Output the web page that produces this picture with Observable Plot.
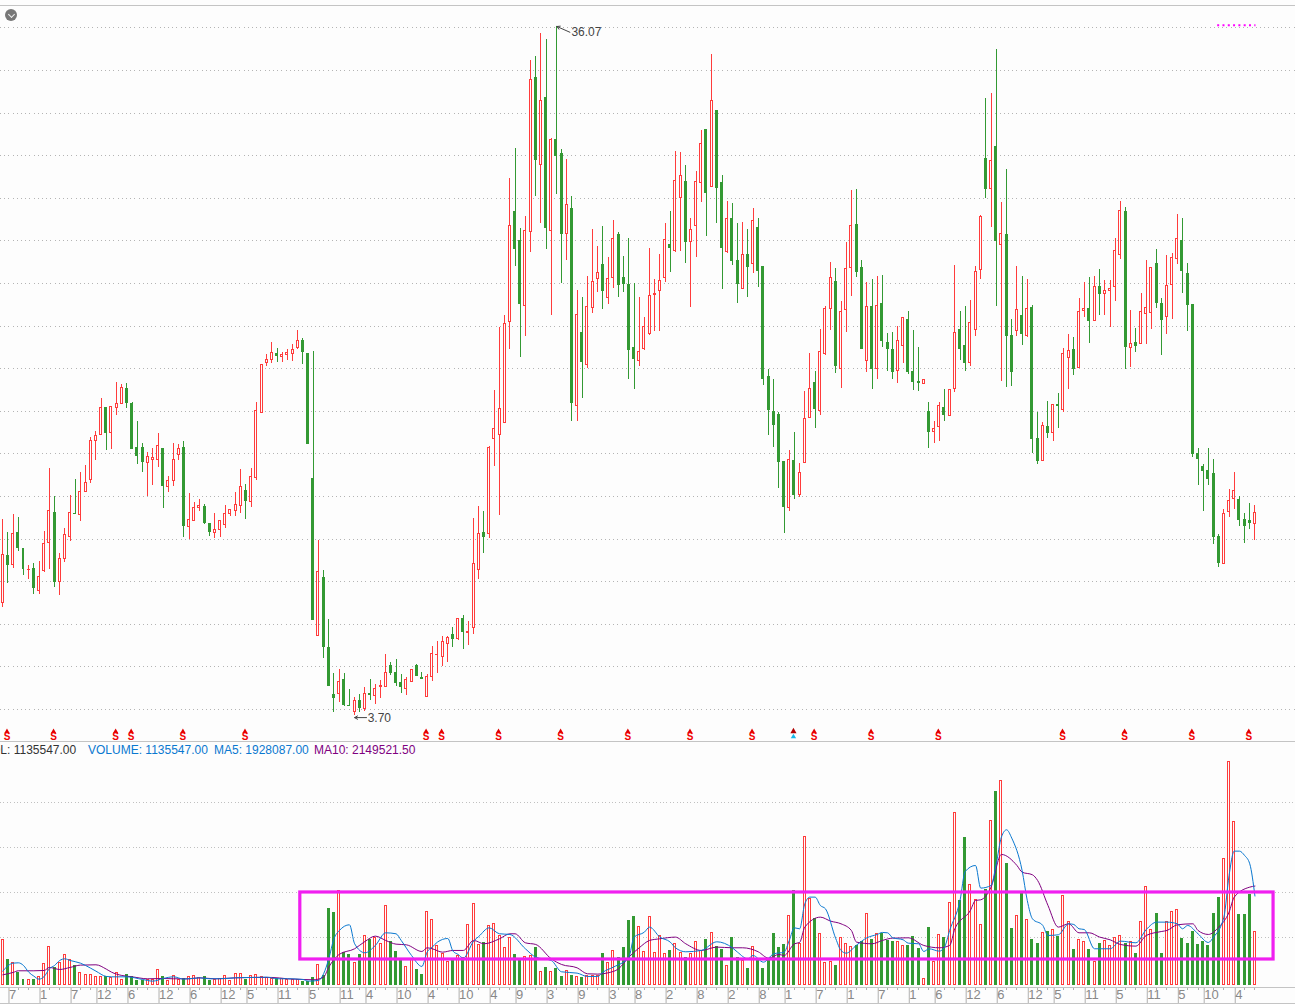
<!DOCTYPE html>
<html>
<head>
<meta charset="utf-8">
<script src="https://cdn.jsdelivr.net/npm/d3@7"></script>
<script src="https://cdn.jsdelivr.net/npm/@observablehq/plot@0.6"></script>
<style>
html,body{margin:0;padding:0;background:#fdfdfd;overflow:hidden;width:1295px;height:1004px;font-family:"Liberation Sans",Arial,sans-serif}
#wrap{position:relative;width:1295px;height:1004px;overflow:hidden}
#top,#bottom{position:absolute;left:0;width:1295px}
#top{top:0}
#bottom{top:741px}
svg{display:block}
.hl{position:absolute;left:0;width:1295px;height:1px;background:#c4c4c4}
.lab{position:absolute;top:743px;font-size:12px;line-height:14px;white-space:nowrap}
#clip{position:absolute;left:0;top:0;width:1295px;height:3px;overflow:hidden}
#clip span{position:absolute;top:-11px;font-size:12px;line-height:14px;white-space:nowrap;color:#333}
#btn{position:absolute;left:5px;top:9px;width:12px;height:12px;border-radius:50%;background:#777}
#btn i{position:absolute;left:3.5px;top:2.5px;width:4px;height:4px;border-right:1px solid #eee;border-bottom:1px solid #eee;transform:rotate(45deg)}
</style>
</head>
<body>
<div id="wrap">
  <div id="bottom"></div>
  <div id="top"></div>
  <div class="hl" style="top:5px;height:1px"></div>
  <div class="hl" style="top:741px"></div>
  <div class="hl" style="top:987px"></div>
  <div class="hl" style="top:1003px"></div>
  <div id="clip">
    <span style="left:3px">12.70</span><span style="left:45px">13.58</span><span style="left:91px">11.94</span><span style="left:125px">13.24</span><span style="left:159px">0.46</span><span style="left:192px;color:#f00">+3.6%</span><span style="left:226px">1135</span><span style="left:270px">547</span>
  </div>
  <div id="btn"><i></i></div>
  <div class="lab" style="left:-17px;color:#333">VOL: 1135547.00</div>
  <div class="lab" style="left:88px;color:#0a78d0">VOLUME: 1135547.00</div>
  <div class="lab" style="left:214px;color:#0a78d0">MA5: 1928087.00</div>
  <div class="lab" style="left:314px;color:#800080">MA10: 2149521.50</div>
</div>
<script>
const high = [12.93,12.32,13.16,13.02,11.52,10.75,10.84,10.95,12.36,15.32,
13.99,11.31,12.50,14.04,14.79,15.12,15.45,16.76,17.04,18.59,
18.17,18.23,19.36,19.25,19.31,18.42,17.53,16.49,16.06,16.26,
16.95,16.21,14.94,16.48,16.45,16.59,14.13,13.71,13.86,13.63,
12.74,13.21,12.86,13.57,13.38,14.18,15.26,14.57,15.30,18.42,
20.20,20.66,21.22,20.94,20.75,20.89,21.13,21.80,21.44,20.71,
20.82,11.94,10.53,8.23,5.70,5.89,5.70,4.95,4.57,4.71,
5.04,5.42,5.18,5.37,6.59,6.21,6.35,5.65,5.51,5.84,
6.12,5.74,5.65,6.97,7.20,7.43,7.43,7.86,8.28,8.42,
8.14,12.97,13.54,13.30,16.36,18.98,21.94,22.51,28.93,30.34,
26.57,27.13,34.47,34.66,35.74,35.46,30.81,36.07,30.29,29.82,
28.09,23.67,23.34,24.33,26.54,25.74,26.68,25.22,26.96,26.40,
25.27,26.11,24.00,23.34,22.41,25.65,24.19,25.36,26.82,27.38,
30.20,30.15,29.54,27.05,29.26,31.19,31.19,34.75,32.08,29.07,
27.85,27.76,26.82,26.87,26.54,27.52,27.05,24.80,19.97,19.50,
17.95,15.60,16.16,17.01,15.55,18.93,20.72,19.87,21.84,22.92,
24.99,24.71,23.16,25.93,28.37,28.42,25.08,24.05,24.19,24.33,
24.38,21.66,21.70,21.99,22.41,22.69,21.80,21.00,19.48,18.42,
17.53,18.42,19.03,19.01,24.85,22.69,22.92,23.21,24.80,27.20,
32.69,32.92,34.99,27.81,29.35,22.31,24.80,24.33,24.19,22.97,
17.95,17.46,18.46,18.31,18.84,20.95,21.61,21.47,23.30,24.05,
24.29,24.33,24.66,24.14,24.14,26.12,27.85,27.57,22.74,21.89,
23.53,25.08,24.74,25.60,23.30,25.32,25.41,27.24,27.06,24.94,
22.97,16.26,15.51,16.26,15.74,12.22,13.39,14.33,15.13,14.00,
13.21,13.68,13.58];
const low = [8.81,9.94,10.64,11.44,10.27,10.12,9.42,9.42,10.41,10.58,
9.75,9.33,10.88,11.91,13.17,12.85,14.21,14.63,15.70,16.90,
16.17,16.21,17.82,18.34,18.15,16.23,15.51,15.15,14.02,14.54,
15.38,13.46,14.21,14.49,15.71,12.10,12.00,12.85,13.32,12.69,
12.14,12.05,12.10,12.52,13.08,13.04,13.22,12.94,13.50,14.73,
17.92,20.12,20.27,20.31,20.30,20.39,20.34,20.92,20.21,16.45,
8.19,7.45,6.40,5.09,3.87,4.35,4.15,4.15,3.70,3.87,
3.91,4.43,4.24,4.52,5.06,5.60,5.09,4.76,4.66,5.29,
5.56,5.42,4.59,5.32,5.70,6.03,6.21,6.92,7.25,6.82,
7.01,7.53,10.11,11.33,12.04,15.42,13.12,17.44,20.92,24.80,
20.53,21.51,25.47,28.09,26.82,25.60,22.50,28.18,24.00,25.08,
17.53,17.53,18.60,20.01,22.59,23.58,22.78,23.02,23.77,23.34,
23.58,19.49,19.03,20.11,20.86,21.56,21.75,21.75,24.05,24.52,
25.46,25.50,24.94,22.88,25.22,27.81,26.21,28.51,26.82,23.72,
25.41,24.85,23.06,23.72,23.34,24.47,23.81,19.22,16.87,16.30,
14.38,12.27,13.30,13.86,13.96,15.57,17.70,17.20,17.81,20.62,
21.80,19.78,19.07,21.70,23.39,24.29,20.91,19.83,19.03,19.50,
21.00,19.87,19.50,19.31,20.25,19.73,18.98,18.93,19.28,16.26,
16.49,16.59,17.53,17.76,18.89,20.39,19.87,20.11,21.52,24.19,
27.99,26.65,22.92,19.40,19.12,19.17,21.52,21.09,21.47,16.01,
15.51,15.66,16.73,16.59,17.20,17.95,19.03,19.68,20.01,22.41,
21.19,22.22,22.50,22.50,21.94,23.16,25.13,19.97,20.06,20.76,
21.16,21.14,21.84,22.83,20.62,21.61,22.31,24.90,23.53,21.75,
15.84,14.52,13.30,14.52,11.75,10.67,10.81,13.02,13.39,12.60,
11.80,12.45,11.94];
const open = [9.01,11.19,10.78,12.27,11.52,10.54,10.58,9.56,10.52,11.83,
13.21,9.98,11.06,12.10,13.19,13.15,14.22,14.79,16.60,16.90,
18.17,16.99,18.17,18.36,19.06,18.36,16.26,16.26,15.57,15.71,
15.71,16.21,14.44,14.73,15.95,16.26,12.57,12.85,13.46,13.49,
12.69,12.28,12.43,12.66,13.17,13.32,13.57,14.27,13.74,14.88,
17.92,20.27,20.41,20.70,20.55,20.64,20.69,20.97,21.29,20.71,
14.81,7.45,10.16,6.87,4.66,4.73,5.37,4.18,3.87,4.38,
4.01,4.71,4.63,5.06,5.06,6.03,5.70,5.23,4.95,5.29,
6.03,5.49,4.59,5.53,6.56,6.46,7.07,7.48,7.29,8.23,
7.59,7.83,10.55,12.27,12.22,16.70,16.87,17.45,22.19,27.38,
26.02,22.94,26.41,33.63,29.56,32.69,26.46,30.76,30.09,26.32,
27.52,18.25,21.69,20.17,22.84,24.21,24.88,23.31,24.25,26.26,
24.28,23.94,20.98,20.36,20.93,21.65,23.45,23.66,24.25,25.83,
25.55,28.01,28.78,25.94,26.69,28.74,31.19,28.52,32.08,28.70,
25.46,27.04,25.08,23.74,25.35,24.91,26.62,24.76,19.59,17.99,
17.81,15.60,13.46,15.69,14.07,15.57,17.70,19.31,18.01,20.69,
22.81,24.05,19.98,22.75,24.72,26.73,24.71,20.36,22.88,19.98,
23.02,21.23,20.86,19.90,21.06,22.31,19.83,19.40,19.28,17.99,
17.02,17.26,18.18,17.76,19.03,21.84,21.05,20.25,21.81,24.63,
29.87,28.43,30.39,25.82,26.30,21.56,21.75,22.50,21.56,22.83,
16.68,15.68,17.27,16.99,18.32,18.04,20.50,20.86,20.03,22.71,
22.81,22.22,23.85,23.50,23.64,23.86,25.33,27.38,20.97,21.22,
21.16,22.56,22.61,24.90,23.05,22.42,23.93,25.15,26.02,24.43,
22.97,15.98,15.41,15.18,15.08,12.08,10.83,13.27,13.88,13.86,
12.88,12.83,12.70];
const close = [11.27,10.78,12.25,11.58,10.59,10.57,9.70,10.23,11.78,13.33,
9.98,11.08,12.21,13.24,13.17,14.22,14.65,16.62,16.85,18.17,
16.98,18.22,18.36,19.11,18.39,16.23,15.90,15.62,15.87,15.79,
16.38,14.49,14.74,15.73,16.24,12.61,12.91,13.47,13.54,12.74,
12.33,12.44,12.86,13.19,13.38,13.61,14.46,13.77,14.93,18.03,
20.19,20.42,20.75,20.59,20.66,20.75,20.89,21.28,20.77,16.45,
8.19,10.47,6.93,5.09,4.54,5.31,4.20,4.15,4.41,4.05,
4.74,4.68,4.98,5.09,5.73,5.70,5.23,5.04,5.37,5.84,
5.56,5.42,5.51,6.59,6.57,7.15,7.37,7.29,8.23,7.62,
7.65,10.82,12.25,12.08,16.26,17.18,18.09,22.11,26.71,25.60,
23.02,26.47,33.56,29.82,32.58,26.63,30.76,30.01,26.35,27.70,
18.37,22.53,20.34,22.91,24.08,24.50,23.67,24.22,26.10,23.91,
24.00,20.90,20.48,20.79,21.94,23.42,23.52,24.13,26.05,25.69,
28.82,29.06,25.97,26.52,28.78,30.56,28.27,32.58,28.51,25.69,
27.04,25.08,23.96,25.35,24.80,26.94,24.57,19.50,18.04,17.34,
15.60,13.49,15.73,14.05,15.11,17.65,19.06,18.09,20.80,22.81,
24.27,20.11,22.67,24.69,26.71,24.52,20.91,22.91,20.01,22.96,
21.28,20.91,19.83,21.31,22.36,19.83,19.40,19.31,19.48,17.01,
17.18,18.26,17.81,19.01,21.69,20.95,20.25,22.16,24.55,27.13,
28.46,29.76,26.02,26.34,21.52,19.83,22.77,21.61,22.81,16.68,
15.65,17.32,16.96,18.31,18.23,20.70,20.84,19.97,22.67,22.81,
22.22,23.85,23.53,23.66,23.75,25.54,27.42,21.00,21.17,21.05,
22.67,22.86,24.74,23.07,22.27,23.89,25.21,26.10,24.57,22.97,
15.98,15.74,15.22,14.80,12.08,10.86,13.19,13.80,14.27,12.88,
12.60,12.74,13.24];
// volume in millions of shares
const volume = [.956,.496,.444,.207,.052,.052,.052,.133,.422,.800,
.333,.444,.622,.496,.378,.222,.163,.178,.133,.133,
.133,.111,.207,.052,.163,.119,.030,.030,.052,.052,
.289,.133,.030,.156,.052,.089,.133,.156,.111,.133,
.030,.052,.089,.156,.030,.200,.200,.052,.156,.178,
.133,.111,.089,.074,.074,.052,.052,.067,.007,.007,
.111,.400,.156,1.630,1.541,2.044,.667,.607,.444,.607,
1.044,.956,1.000,.867,1.711,.911,.674,.511,.356,.496,
.274,.163,1.578,1.400,.822,.644,.467,.511,.600,.556,
1.289,1.756,.844,.889,1.267,1.311,1.044,.778,1.000,.607,
.496,.578,.600,.763,.244,.333,.244,.311,.119,.267,
.156,.133,.096,.141,.156,.156,.630,.444,.711,.556,
.763,1.363,1.452,1.244,.689,1.467,.667,1.044,.644,.696,
.867,.667,.556,.644,.911,.711,.956,1.111,.793,.733,
.378,1.000,.556,.481,.296,.800,.481,.296,.489,1.089,
.778,.844,1.489,2.044,.867,3.244,1.867,1.422,1.089,.444,
.467,.378,1.000,.867,.800,.822,.911,1.533,.956,1.089,
1.074,.919,.896,.911,.822,.807,1.022,.741,.089,1.207,
.459,1.067,1.000,1.778,3.778,1.815,3.207,2.178,1.830,1.289,
2.052,3.600,4.230,4.489,2.630,1.185,1.489,1.978,1.400,.956,
.852,1.111,1.119,1.178,1.022,1.933,1.356,.719,.956,.911,
.719,.467,.867,.933,.822,1.000,1.044,.867,.911,.644,
1.356,2.133,1.178,1.519,.630,1.356,1.578,1.622,.978,.867,
1.119,.830,.896,.807,1.519,1.874,2.756,4.911,3.578,1.496,
1.496,1.941,1.135547];
// moving averages: bar number and value (millions) read at the line's vertices
const ma5Bar = [1,2,3,4,5,6,7,8,9,10,11,12,13,14,16,17,19,21,22,25,28,30,32,34,36,39,41,43,46,49,52,54,56,59,60,62,63,64,65,66,68,69,71,73,75,77,78,80,82,83,
84,85,87,88,89,90,92,93,95,97,99,102,104,107,109,112,114,116,117,119,122,123,125,126,128,130,131,133,136,139,142,143,145,146,148,150,152,153,154,155,156,157,158,159,160,162,163,164,166,
168,170,171,172,173,175,176,178,179,180,182,183,184,186,187,189,190,192,193,194,195,196,198,199,200,202,203,205,207,208,209,210,212,215,217,220,222,224,226,228,229,230,232,234,235,237,238,239,240,241,242,243];
const ma5Val = [.259,.378,.437,.444,.385,.237,.148,.081,.141,.311,.385,.496,.533,.496,.437,.385,.259,.141,.133,.133,.074,.037,.096,.133,.081,.111,.089,.089,.111,.119,.126,.089,.089,.074,.037,.052,.200,.533,.978,1.156,1.289,.867,.667,.830,1.111,1.089,.941,.607,.363,.681,
.793,.904,.985,.704,.630,.548,.926,1.030,1.222,1.089,1.074,.756,.570,.496,.244,.215,.141,.141,.237,.348,.570,1.015,1.126,1.237,1.015,.904,.778,.689,.719,.911,.778,.681,.533,.607,.459,.644,.681,.941,1.222,1.200,1.756,1.904,1.904,1.719,1.644,.978,.719,.659,.837,
1.000,1.074,1.119,1.111,1.000,.956,.881,.867,.696,.756,.704,.793,1.163,1.830,2.474,2.607,2.104,2.163,2.644,3.237,3.400,3.215,2.496,1.830,1.422,1.274,1.052,1.067,1.311,1.296,1.200,1.185,.756,.756,.926,.889,1.185,1.348,1.348,1.311,1.200,1.274,1.089,.896,1.015,1.459,2.385,2.926,2.926,2.830,2.644,1.928087];
const ma10Bar = [1,3,4,7,9,10,12,14,16,19,21,22,24,26,29,32,34,37,39,42,46,49,53,56,59,61,63,64,66,69,71,73,75,77,79,82,83,
84,86,88,90,92,94,97,99,100,102,104,107,109,112,114,116,118,120,122,124,126,128,131,133,136,139,142,144,147,149,151,152,154,155,156,159,161,163,165,166,
169,171,173,176,179,182,184,185,188,189,190,192,194,197,198,200,201,203,205,207,209,211,213,215,217,220,222,225,226,228,231,232,234,236,238,239,242,243];
const ma10Val = [.178,.230,.267,.267,.274,.341,.296,.341,.393,.400,.304,.237,.163,.133,.089,.096,.089,.089,.111,.089,.111,.119,.119,.089,.074,.067,.126,.348,.630,.756,.919,1.037,.941,.859,.844,.696,.778,
.756,.681,.719,.719,.941,.867,.978,1.089,1.089,.889,.852,.533,.407,.333,.200,.193,.222,.311,.570,.778,.941,.978,1.015,.867,.719,.793,.778,.778,.689,.548,.630,.607,.867,.896,1.237,1.459,1.370,1.311,1.163,.904,
.867,.941,.993,1.000,.830,.778,.830,1.200,1.607,1.830,1.844,2.126,2.852,2.607,2.459,2.400,2.274,1.719,1.237,1.311,1.111,1.111,1.015,.956,.852,.815,1.052,1.141,1.163,1.289,1.311,1.163,1.074,1.237,1.570,1.904,2.126,2.149521];
const signalBars = [2,11,23,26,36,48,83,86,97,109,122,134,146,158,169,182,206,218,231,242];
const arrowBars = [154];
const priceGrid = [4,6,8,10,12,14,16,18,20,22,24,26,28,30,32,34,36];
const volumeGrid = [1,2,3,4];
const tickBars = [2,8,14,19,25,31,37,43,48,54,60,66,71,77,83,89,95,100,106,112,118,123,129,135,141,147,152,158,164,170,176,181,187,193,199,204,210,216,222,228,233,239];
const tickLabels = [7,1,7,12,6,12,6,12,5,11,5,11,4,10,4,10,4,9,3,9,3,8,2,8,2,8,1,7,1,7,1,6,12,6,12,5,11,5,11,5,10,4];

const RED = "#ff3c3c", GREEN = "#339933", PAPER = "#fdfdfd", MAGENTA = "#f01ff0";
const bars = high.map((h, k) => ({i: k + 1, high: h, low: low[k], open: open[k], close: close[k], volume: volume[k], up: close[k] > open[k]}));
const xDomain = [0.555, 250.84], half = 0.193;
const upBars = bars.filter(d => d.up), downBars = bars.filter(d => !d.up);
const minorBars = tickBars.flatMap(b => [b + 2, b + 4]);
const crisp = {shapeRendering: "crispEdges"};

function body(data, color) {
  return Plot.rect(data, {x1: d => d.i - half, x2: d => d.i + half, y1: "open", y2: "close",
    fill: color === RED ? PAPER : color, stroke: color, strokeWidth: 1, ...crisp});
}
function volBody(data, color) {
  return Plot.rect(data, {x1: d => d.i - half, x2: d => d.i + half, y1: -0.038, y2: "volume",
    fill: color === RED ? PAPER : color, stroke: color, strokeWidth: 1, ...crisp});
}

const priceChart = Plot.plot({
  width: 1295, height: 755, margin: 0,
  style: {background: "transparent", overflow: "visible"},
  x: {domain: xDomain, axis: null},
  y: {domain: [2.498, 37.291], range: [741, 0], axis: null},
  marks: [
    Plot.gridY(priceGrid, {stroke: "#b4b4b4", strokeOpacity: 1, strokeDasharray: "1,3.2", ...crisp}),
    Plot.ruleX(downBars, {x: "i", y1: "low", y2: "high", stroke: GREEN, strokeWidth: 1, ...crisp}),
    Plot.ruleX(upBars, {x: "i", y1: "low", y2: "high", stroke: RED, strokeWidth: 1, ...crisp}),
    body(downBars, GREEN),
    body(upBars, RED),
    Plot.arrow([{x1: 110.6, y1: 35.8, x2: 108.1, y2: 36.07}], {x1: "x1", y1: "y1", x2: "x2", y2: "y2", stroke: "#444", strokeWidth: 1, headLength: 5, bend: false}),
    Plot.text([{i: 108, p: 35.8, t: "36.07"}], {x: "i", y: "p", text: "t", dx: 15, textAnchor: "start", fontSize: 12, fill: "#444", fontFamily: "Liberation Sans"}),
    Plot.arrow([{x1: 71.3, y1: 3.62, x2: 69, y2: 3.62}], {x1: "x1", y1: "y1", x2: "x2", y2: "y2", stroke: "#444", strokeWidth: 1, headLength: 5}),
    Plot.text([{i: 69, p: 3.6, t: "3.70"}], {x: "i", y: "p", text: "t", dx: 13, textAnchor: "start", fontSize: 12, fill: "#444", fontFamily: "Liberation Sans"}),
    Plot.ruleY([36.13], {x1: 235.8, x2: 243.2, stroke: "#ff00ff", strokeWidth: 2, strokeDasharray: "2,3.3"}),
    Plot.dot(signalBars, {x: d => d, y: 2.97, symbol: "triangle", r: 1.9, dx: -1, fill: "#e00000"}),
    Plot.text(signalBars, {x: d => d, y: 2.7, dx: -1, text: () => "S", fill: "#f00000", fontWeight: "bold", fontSize: 10, fontFamily: "Liberation Sans"}),
    Plot.dot(arrowBars, {x: d => d, y: 2.97, symbol: "triangle", r: 2.3, dx: -1, fill: "#b00000"}),
    Plot.dot(arrowBars, {x: d => d, y: 2.72, symbol: "triangle", r: 2, dx: -1, fill: "#18b8e8"})
  ]
});
document.getElementById("top").appendChild(priceChart);

const labelOf = new Map(tickBars.map((b, k) => [b, String(tickLabels[k])]));
const ma5 = ma5Bar.map((b, k) => ({i: b, v: ma5Val[k]}));
const ma10 = ma10Bar.map((b, k) => ({i: b, v: ma10Val[k]}));

const volumeChart = Plot.plot({
  width: 1295, height: 263, marginTop: 0, marginLeft: 0, marginRight: 0, marginBottom: 17,
  style: {background: "transparent", overflow: "hidden"},
  x: {domain: xDomain},
  y: {domain: [0, 5.362], range: [241.3, 0], axis: null},
  marks: [
    Plot.gridY(volumeGrid, {stroke: "#c0c0c0", strokeOpacity: 1, strokeDasharray: "1,2.4", ...crisp}),
    volBody(downBars, GREEN),
    volBody(upBars, RED),
    Plot.line(ma10, {x: "i", y: "v", stroke: "#800080", strokeWidth: 1, curve: "monotone-x"}),
    Plot.line(ma5, {x: "i", y: "v", stroke: "#0a78d0", strokeWidth: 1, curve: "monotone-x"}),
    Plot.rect([{a: 58.5, b: 246.6, c: 0.518, d: 2.007}], {x1: "a", x2: "b", y1: "c", y2: "d", fill: "none", stroke: MAGENTA, strokeWidth: 3.2}),
    Plot.ruleX(minorBars, {x: d => d, y1: -0.116, y2: -0.165, stroke: "#b0b0b0", ...crisp}),
    Plot.axisX({anchor: "bottom", ticks: tickBars, tickSize: 16, tickPadding: -14, stroke: "#b0b0b0",
      tickFormat: d => labelOf.get(d), textAnchor: "start", dx: 1, fontSize: 13, fill: "#888", fontFamily: "Liberation Sans", label: null})
  ]
});
document.getElementById("bottom").appendChild(volumeChart);
</script>
</body>
</html>
